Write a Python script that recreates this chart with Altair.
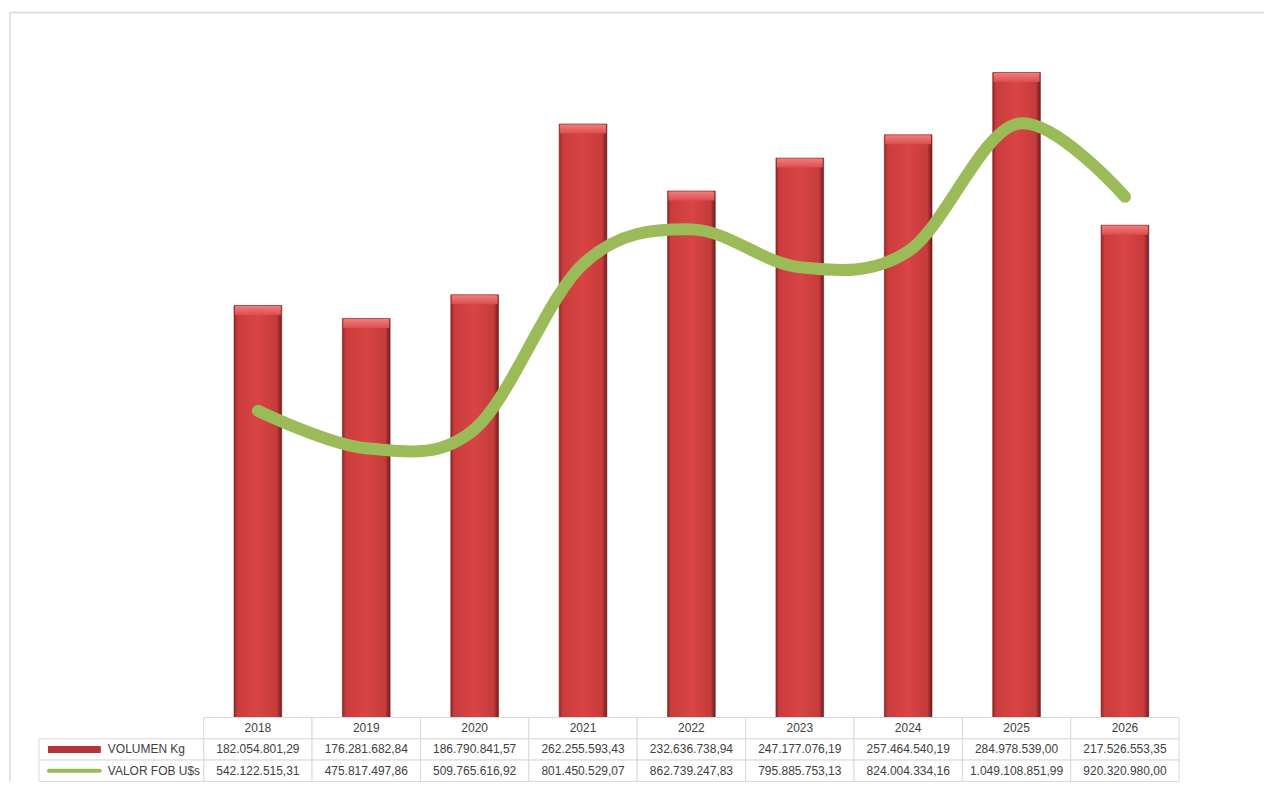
import altair as alt
import pandas as pd

years = ["2018", "2019", "2020", "2021", "2022", "2023", "2024", "2025", "2026"]
volumen = [182054801.29, 176281682.84, 186790841.57, 262255593.43, 232636738.94,
           247177076.19, 257464540.19, 284978539.00, 217526553.35]
valor = [542122515.31, 475817497.86, 509765616.92, 801450529.07, 862739247.83,
         795885753.13, 824004334.16, 1049108851.99, 920320980.00]
series_names = ["VOLUMEN Kg", "VALOR FOB U$s"]


def fmt(v):
    s = f"{v:,.2f}"
    return s.replace(",", "X").replace(".", ",").replace("X", ".")


df = pd.DataFrame({"year": years, "volumen": volumen, "valor": valor})

W = 977
H = 680
TH = 64
FONT = "Liberation Sans"
GRID = "#D9D9D9"
TXT = "#404040"

x_main = alt.X("year:N", sort=years, axis=None,
               scale=alt.Scale(paddingInner=0.56, paddingOuter=0.28))
y_bar = alt.Y("volumen:Q", axis=None,
              scale=alt.Scale(domain=[0, 300e6], nice=False, zero=True))
y_line = alt.Y("valor:Q", axis=None,
               scale=alt.Scale(domain=[0, 1200e6], nice=False, zero=True))

bar_grad = alt.LinearGradient(
    gradient="linear", x1=0, x2=1, y1=0, y2=0,
    stops=[alt.GradientStop(offset=0, color="#8E2626"),
           alt.GradientStop(offset=0.07, color="#CB3C3C"),
           alt.GradientStop(offset=0.5, color="#D94444"),
           alt.GradientStop(offset=0.9, color="#C63B3B"),
           alt.GradientStop(offset=1, color="#6E1C1C")])
cap_grad = alt.LinearGradient(
    gradient="linear", x1=0, x2=0, y1=0, y2=1,
    stops=[alt.GradientStop(offset=0, color="#F27C7C"),
           alt.GradientStop(offset=1, color="#DC4E4E")])

one = pd.DataFrame({"a": [0]})
frame_top = alt.Chart(one).mark_rule(stroke=GRID, strokeWidth=1.5).encode(
    x=alt.value(-194), x2=alt.value(1062), y=alt.value(-26))
frame_left = alt.Chart(one).mark_rule(stroke=GRID, strokeWidth=1.5).encode(
    x=alt.value(-194), y=alt.value(-26), y2=alt.value(H + TH))

bars = alt.Chart(df).mark_bar(color=bar_grad, stroke="#7A1F1F", strokeWidth=0.6).encode(
    x=x_main, y=y_bar)
caps = alt.Chart(df).mark_tick(color=cap_grad, thickness=9, size=46, yOffset=5,
                               opacity=1).encode(x=x_main, y=y_bar)
line = alt.Chart(df).mark_line(color="#9BBB59", strokeWidth=12, interpolate="cardinal",
                               strokeCap="round").encode(x=x_main, y=y_line)

main = alt.layer(frame_top, frame_left, bars, caps, line).resolve_scale(
    y="independent").properties(width=W, height=H)

# table
rows = []
for i, yv in enumerate(years):
    rows.append({"year": yv, "r0": 0, "r1": 1, "rc": 0.5, "label": yv})
    rows.append({"year": yv, "r0": 1, "r1": 2, "rc": 1.5, "label": fmt(volumen[i])})
    rows.append({"year": yv, "r0": 2, "r1": 3, "rc": 2.5, "label": fmt(valor[i])})
tdf = pd.DataFrame(rows)
ldf = pd.DataFrame({"name": series_names, "r0": [1, 2], "r1": [2, 3], "rc": [1.5, 2.5]})

x_tab = alt.X("year:N", sort=years, axis=None,
              scale=alt.Scale(paddingInner=0, paddingOuter=0))
yscale = alt.Scale(domain=[0, 3], reverse=True, nice=False, zero=False)

cells = alt.Chart(tdf).mark_rect(fill="white", stroke=GRID, strokeWidth=1).encode(
    x=x_tab, y=alt.Y("r0:Q", axis=None, scale=yscale), y2="r1:Q")
texts = alt.Chart(tdf).mark_text(font=FONT, fontSize=12, color=TXT).encode(
    x=x_tab, y=alt.Y("rc:Q", axis=None, scale=yscale), text="label:N")
lcells = alt.Chart(ldf).mark_rect(fill="white", stroke=GRID, strokeWidth=1).encode(
    x=alt.value(-165), x2=alt.value(0), y=alt.Y("r0:Q", axis=None, scale=yscale), y2="r1:Q")
ltexts = alt.Chart(ldf).mark_text(font=FONT, fontSize=12, color=TXT, align="left").encode(
    x=alt.value(-96), y=alt.Y("rc:Q", axis=None, scale=yscale), text="name:N")
sym_red = alt.Chart(ldf).transform_filter(alt.datum.name == series_names[0]).mark_rule(
    strokeWidth=7, color="#B33535").encode(
    x=alt.value(-156), x2=alt.value(-103), y=alt.Y("rc:Q", axis=None, scale=yscale))
sym_green = alt.Chart(ldf).transform_filter(alt.datum.name == series_names[1]).mark_rule(
    strokeWidth=4, color="#9BBB59", strokeCap="round").encode(
    x=alt.value(-155), x2=alt.value(-104), y=alt.Y("rc:Q", axis=None, scale=yscale))

table = alt.layer(cells, texts, lcells, ltexts, sym_red, sym_green).properties(
    width=W, height=TH)

chart = alt.vconcat(main, table, spacing=0, bounds="flush").resolve_scale(
    x="independent", y="independent"
).properties(
    padding={"left": 1, "top": 3, "right": 0, "bottom": 0},
    background="white",
).configure_view(stroke=None)

chart.save("out.html", embed_options={"renderer": "svg", "actions": False})
